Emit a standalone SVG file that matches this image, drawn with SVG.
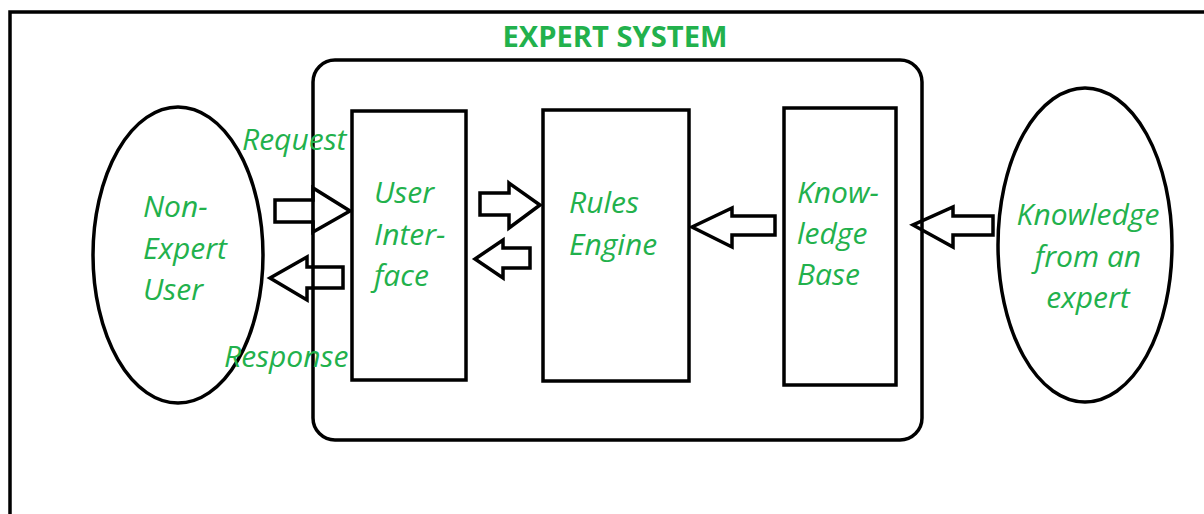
<svg xmlns="http://www.w3.org/2000/svg" width="1204" height="514" viewBox="0 0 1204 514">
<style>
.ln{fill:none;stroke:#000;stroke-width:3.5;stroke-linejoin:miter}
.bx{fill:none;stroke:#000;stroke-width:3.5}
.t{font-family:"Open Sans","Liberation Sans",sans-serif;font-style:italic;font-size:30px;fill:#22b14c}
.title{font-family:"Open Sans","Liberation Sans",sans-serif;font-weight:bold;font-size:29px;fill:#22b14c}
</style>
<rect width="1204" height="514" fill="#fff"/>
<path class="ln" d="M10,514 V12 H1204"/>
<g id="expert-system">
<rect class="bx" x="313" y="60" width="609" height="380" rx="22"/>
<text class="title" x="615" y="47" text-anchor="middle" textLength="225" lengthAdjust="spacingAndGlyphs">EXPERT SYSTEM</text>
</g>
<g id="non-expert-user">
<ellipse class="bx" cx="178" cy="255" rx="85" ry="148"/>
<text class="t" x="143" y="217">Non-</text>
<text class="t" x="143" y="259">Expert</text>
<text class="t" x="143" y="300">User</text>
</g>
<g id="user-interface">
<rect class="bx" x="352" y="111" width="114" height="269"/>
<text class="t" x="374" y="203">User</text>
<text class="t" x="374" y="245">Inter-</text>
<text class="t" x="374" y="286">face</text>
</g>
<g id="rules-engine">
<rect class="bx" x="543" y="110" width="146" height="271"/>
<text class="t" x="569" y="213">Rules</text>
<text class="t" x="569" y="255">Engine</text>
</g>
<g id="knowledge-base">
<rect class="bx" x="784" y="108" width="112" height="277"/>
<text class="t" x="797" y="203">Know-</text>
<text class="t" x="797" y="244">ledge</text>
<text class="t" x="797" y="285">Base</text>
</g>
<g id="expert-knowledge">
<ellipse class="bx" cx="1085" cy="245" rx="87" ry="157"/>
<text class="t" x="1088" y="225" text-anchor="middle">Knowledge</text>
<text class="t" x="1088" y="267" text-anchor="middle">from an</text>
<text class="t" x="1088" y="308" text-anchor="middle">expert</text>
</g>
<g id="connectors">
<polygon class="ln" points="275,200 313,200 313,188 350,211 313,232 313,222 275,222"/>
<polygon class="ln" points="343,267 307,267 307,257 270,278 307,300 307,288 343,288"/>
<polygon class="ln" points="480,193 509,193 509,183 540,205 509,228 509,215 480,215"/>
<polygon class="ln" points="530,248 503,248 503,240 475,259 503,278 503,268 530,268"/>
<polygon class="ln" points="775,216 732,216 732,208 692,227 732,247 732,235 775,235"/>
<polygon class="ln" points="993,216 953,216 953,207 913,225 953,247 953,235 993,235"/>
<text class="t" x="242" y="150">Request</text>
<text class="t" x="224" y="367">Response</text>
</g>
</svg>
